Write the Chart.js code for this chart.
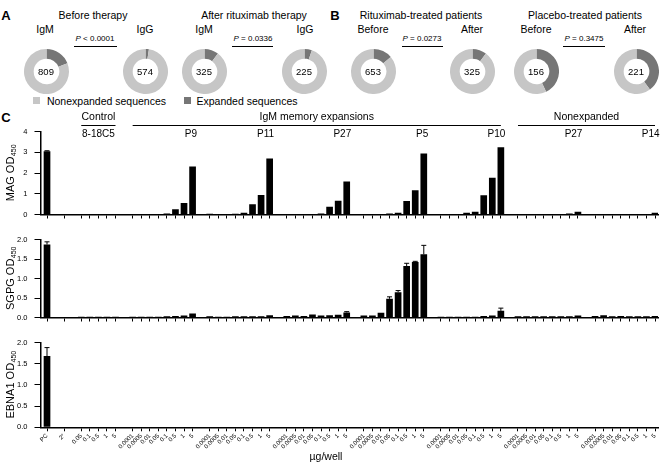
<!DOCTYPE html>
<html><head><meta charset="utf-8">
<script src="https://cdn.jsdelivr.net/npm/chart.js@4/dist/chart.umd.min.js"></script>
<style>
html,body{margin:0;padding:0;background:#fff;}
#fig{position:relative;width:663px;height:468px;overflow:hidden;font-family:"Liberation Sans",Arial,Helvetica,sans-serif;color:#000;}
.t{position:absolute;white-space:nowrap;line-height:1;transform:translate(-50%,-50%);}
.ln{position:absolute;height:0;border-top:1px solid #000;}
.sq{position:absolute;width:7px;height:7px;}
canvas{position:absolute;}
</style></head><body><div id="fig"></div>
<script>
// ---------------- DATA ----------------
// Panels A and B: donuts (total sequences, expanded sequences)
const donutTotals    = [809, 574, 325, 225, 653, 325, 156, 221];
const donutExpanded  = [154, 14, 33, 12, 91, 33, 67, 88];
const donutSeries    = ['Expanded sequences', 'Nonexpanded sequences'];
const pValues        = ['< 0.0001', '= 0.0336', '= 0.0273', '= 0.3475'];

// Panel C: x categories (bar groups)
const controlDoses = ['0.05', '0.1', '0.5', '1', '5'];
const patientDoses = ['0.0001', '0.0005', '0.01', '0.05', '0.1', '0.5', '1', '5'];
const groupTicks = [['PC'], ['2°'], controlDoses, patientDoses, patientDoses, patientDoses,
                    patientDoses, patientDoses, patientDoses, patientDoses];
const groupNames = ['', '', '8-18C5', 'P9', 'P11', 'P27', 'P5', 'P10', 'P27', 'P14'];
const magTicks  = [0, 1, 2, 3, 4];
const odTicks   = [0, 0.5, 1, 1.5, 2];

// Values in bar order: PC, 2°, 8-18C5 x5, P9, P11, P27, P5, P10 (expansions), P27, P14 (nonexpanded)
const magValues = [3.05, 0.01,
  0.02, 0.02, 0.03, 0.02, 0.02,
  0.01, 0.02, 0.02, 0.03, 0.05, 0.25, 0.56, 2.32,
  0.04, 0.01, 0.02, 0.04, 0.08, 0.50, 0.94, 2.70,
  0.02, 0.02, 0.03, 0.03, 0.05, 0.38, 0.66, 1.60,
  0.02, 0.02, 0.02, 0.05, 0.08, 0.65, 1.17, 2.95,
  0.01, 0.02, 0.03, 0.09, 0.13, 0.93, 1.77, 3.25,
  0.02, 0.02, 0.02, 0.02, 0.02, 0.02, 0.05, 0.13,
  0.02, 0.02, 0.02, 0.02, 0.02, 0.02, 0.02, 0.08];
const magErrors = [0.03];

const sgpgValues = [1.87, 0.01,
  0.02, 0.02, 0.02, 0.02, 0.02,
  0.02, 0.02, 0.02, 0.02, 0.03, 0.04, 0.05, 0.10,
  0.03, 0.02, 0.02, 0.03, 0.03, 0.03, 0.03, 0.06,
  0.04, 0.05, 0.04, 0.08, 0.05, 0.06, 0.07, 0.13,
  0.05, 0.05, 0.12, 0.48, 0.65, 1.32, 1.42, 1.62,
  0.02, 0.02, 0.02, 0.02, 0.02, 0.04, 0.05, 0.17,
  0.03, 0.03, 0.03, 0.03, 0.03, 0.03, 0.03, 0.05,
  0.04, 0.06, 0.03, 0.04, 0.03, 0.03, 0.03, 0.04];
const sgpgErrors = [0.07, 0,
  0, 0, 0, 0, 0,
  0, 0, 0, 0, 0, 0, 0, 0,
  0, 0, 0, 0, 0, 0, 0, 0,
  0, 0, 0, 0, 0, 0, 0, 0.02,
  0, 0, 0, 0.05, 0.04, 0.07, 0.02, 0.23,
  0, 0, 0, 0, 0, 0, 0, 0.07];

const ebnaValues = [1.68, 0,
  0, 0, 0, 0, 0,
  0, 0, 0, 0, 0, 0, 0, 0,
  0, 0, 0, 0, 0, 0, 0, 0,
  0, 0, 0, 0, 0, 0, 0, 0,
  0, 0, 0, 0, 0, 0, 0, 0,
  0, 0, 0, 0, 0, 0, 0, 0,
  0, 0, 0, 0, 0, 0, 0, 0,
  0, 0, 0, 0, 0, 0, 0, 0];
const ebnaErrors = [0.20];

// ---------------- BUILD ----------------
const FONT = '"Liberation Sans", Arial, Helvetica, sans-serif';
const LIGHT = '#c6c6c6', DARK = '#767676';
const fig = document.getElementById('fig');

function txt(html, x, y, size, bold) {
  const d = document.createElement('div');
  d.className = 't'; d.innerHTML = html;
  d.style.left = x + 'px'; d.style.top = y + 'px'; d.style.fontSize = size + 'px';
  if (bold) d.style.fontWeight = 'bold';
  fig.appendChild(d);
}
function hline(x1, x2, y) {
  const d = document.createElement('div'); d.className = 'ln';
  d.style.left = x1 + 'px'; d.style.top = y + 'px'; d.style.width = (x2 - x1) + 'px';
  fig.appendChild(d);
}
function mkCanvas(left, top, w, h) {
  const c = document.createElement('canvas');
  c.width = w; c.height = h;
  c.style.left = left + 'px'; c.style.top = top + 'px';
  c.style.width = w + 'px'; c.style.height = h + 'px';
  fig.appendChild(c); return c;
}

// ---- Panels A & B text ----
txt('A', 6, 15, 13, true);
txt('B', 335, 15, 13, true);
txt('C', 6, 117, 13, true);
txt('Before therapy', 93, 15, 10.5);
txt('After rituximab therapy', 254, 15, 10.5);
txt('Rituximab-treated patients', 421, 15, 10.5);
txt('Placebo-treated patients', 585, 15, 10.5);
const subLabels = ['IgM', 'IgG', 'IgM', 'IgG', 'Before', 'After', 'Before', 'After'];
const subX = [45, 145, 204, 305, 373, 472, 536, 635];
subLabels.forEach((s, i) => txt(s, subX[i], 29, 10.5));
const pX = [95, 253, 422, 584];
const pLine = [[74, 117], [232, 273], [402, 443], [563, 605]];
pValues.forEach((p, i) => {
  txt('<i>P</i> ' + p.replace('<', '&lt;'), pX[i], 39, 8);
  hline(pLine[i][0], pLine[i][1], 46);
});

// legend
function sq(x, y, col) { const d = document.createElement('div'); d.className = 'sq'; d.style.left = x + 'px'; d.style.top = y + 'px'; d.style.background = col; fig.appendChild(d); }
sq(33, 97, LIGHT);
txt('Nonexpanded sequences', 106.5, 100.5, 10.5);
sq(184, 97, DARK);
txt('Expanded sequences', 247, 100.5, 10.5);

// donuts
const donutCx = [46, 145, 204, 304, 373, 472, 536, 636];
const DONUT_R = 22.5, DONUT_CY = 71;
donutTotals.forEach((tot, i) => {
  const c = mkCanvas(donutCx[i] - DONUT_R, DONUT_CY - DONUT_R, 45, 45);
  new Chart(c, {
    type: 'doughnut',
    data: { labels: donutSeries, datasets: [{ data: [donutExpanded[i], tot - donutExpanded[i]], backgroundColor: [DARK, LIGHT], borderWidth: 0 }] },
    options: { responsive: false, animation: false, cutout: '57%', layout: { padding: 0 },
      plugins: { legend: { display: false }, tooltip: { enabled: false } } }
  });
  txt(String(tot), donutCx[i], DONUT_CY + 0.5, 9.5);
});

// ---- Panel C ----
const xs = [], xLabels = [], groupSlots = [];
let slot = 0;
groupTicks.forEach((g, gi) => {
  if (gi > 0) slot++;
  const first = slot;
  g.forEach(l => { xs.push(slot); xLabels.push(l); slot++; });
  groupSlots.push([first, slot - 1]);
});
const labelAt = {};
xs.forEach((x, i) => { labelAt[x] = xLabels[i]; });

const errPlugin = {
  id: 'errbars',
  afterDatasetsDraw(chart, args, o) {
    const errs = o.errors || [], vals = o.values || [];
    const ctx = chart.ctx, y = chart.scales.y, meta = chart.getDatasetMeta(0);
    ctx.save(); ctx.strokeStyle = '#000'; ctx.lineWidth = 1;
    meta.data.forEach((bar, i) => {
      const e = errs[i]; if (!e) return;
      const top = y.getPixelForValue(vals[i] + e);
      ctx.beginPath();
      ctx.moveTo(bar.x, bar.y); ctx.lineTo(bar.x, top);
      ctx.moveTo(bar.x - 2.5, top); ctx.lineTo(bar.x + 2.5, top);
      ctx.stroke();
    });
    ctx.restore();
  }
};
const yTitlePlugin = {
  id: 'ytitle',
  afterDraw(chart, args, o) {
    const ctx = chart.ctx, ca = chart.chartArea;
    ctx.save();
    ctx.translate(10.5, (ca.top + ca.bottom) / 2);
    ctx.rotate(-Math.PI / 2);
    ctx.fillStyle = '#000'; ctx.textBaseline = 'middle'; ctx.textAlign = 'left';
    ctx.font = '11px ' + FONT; const w1 = ctx.measureText(o.main).width;
    ctx.font = '7px ' + FONT; const w2 = ctx.measureText(o.sub).width;
    const s = -(w1 + w2) / 2;
    ctx.font = '11px ' + FONT; ctx.fillText(o.main, s, 0);
    ctx.font = '7px ' + FONT; ctx.fillText(o.sub, s + w1 + 0.5, 4);
    ctx.restore();
  }
};
const headerPlugin = {
  id: 'headers',
  afterDraw(chart, args, o) {
    if (!o.show) return;
    const ctx = chart.ctx, xsc = chart.scales.x;
    const px = v => xsc.getPixelForValue(v);
    ctx.save(); ctx.fillStyle = '#000'; ctx.strokeStyle = '#000'; ctx.lineWidth = 1;
    ctx.textBaseline = 'middle';
    const heads = [['Control', 2, 2], ['IgM memory expansions', 3, 7], ['Nonexpanded', 8, 9]];
    heads.forEach(h => {
      const x1 = px(groupSlots[h[1]][0]), x2 = px(groupSlots[h[2]][1]);
      ctx.font = '10.5px ' + FONT; ctx.textAlign = 'center';
      ctx.fillText(h[0], (x1 + x2) / 2, 12);
      ctx.beginPath(); ctx.moveTo(x1, 20.5); ctx.lineTo(x2, 20.5); ctx.stroke();
    });
    ctx.font = '10px ' + FONT;
    groupNames.forEach((n, gi) => {
      if (!n) return;
      const g = groupSlots[gi];
      if (gi === 2) { ctx.textAlign = 'center'; ctx.fillText(n, (px(g[0]) + px(g[1])) / 2, 29.5); }
      else { ctx.textAlign = 'right'; ctx.fillText(n, px(g[1]) + 4.5, 29.5); }
    });
    ctx.restore();
  }
};
const unitPlugin = {
  id: 'unit',
  afterDraw(chart, args, o) {
    if (!o.text) return;
    const ctx = chart.ctx;
    ctx.save(); ctx.fillStyle = '#000'; ctx.font = '10.5px ' + FONT;
    ctx.textAlign = 'center'; ctx.textBaseline = 'middle';
    ctx.fillText(o.text, 326, chart.height - 11);
    ctx.restore();
  }
};

function barChart(top, height, padTop, xHeight, values, errors, yTicks, decimals, titleMain, showX, headers, unit) {
  const c = mkCanvas(0, top, 663, height);
  return new Chart(c, {
    type: 'bar',
    data: { datasets: [{ data: xs.map((x, i) => ({ x: x, y: values[i] })), backgroundColor: '#000', borderWidth: 0,
      categoryPercentage: 1, barPercentage: 0.78 }] },
    options: {
      responsive: false, animation: false,
      layout: { padding: { top: padTop, right: 5, left: 0, bottom: 0 } },
      plugins: { legend: { display: false }, tooltip: { enabled: false },
        errbars: { errors: errors, values: values },
        ytitle: { main: titleMain, sub: '450' },
        headers: { show: headers }, unit: { text: unit } },
      scales: {
        x: { type: 'linear', min: -0.76, max: 71.35, offset: false,
          afterBuildTicks: s => { s.ticks = xs.map(v => ({ value: v })); },
          afterFit: s => { s.height = xHeight; },
          grid: { offset: false, drawOnChartArea: false, drawTicks: true, tickLength: 4, color: '#000', lineWidth: 1 },
          border: { color: '#000', width: 1.5 },
          ticks: { display: showX, autoSkip: false, minRotation: 45, maxRotation: 45, padding: 1,
            font: { size: 6, family: FONT }, color: '#000', callback: v => (labelAt[v] !== undefined ? labelAt[v] : '') } },
        y: { type: 'linear', min: yTicks[0], max: yTicks[yTicks.length - 1],
          afterBuildTicks: s => { s.ticks = yTicks.map(v => ({ value: v })); },
          afterFit: s => { s.width = 40.5; },
          grid: { drawOnChartArea: false, drawTicks: true, tickLength: 6, color: '#000', lineWidth: 1 },
          border: { color: '#000', width: 1.5 },
          ticks: { autoSkip: false, padding: 7, font: { size: 7.5, family: FONT }, color: '#000',
            callback: v => Number(v).toFixed(decimals) } }
      }
    },
    plugins: [errPlugin, yTitlePlugin, headerPlugin, unitPlugin]
  });
}

barChart(105, 121, 26.7, 8.3, magValues, magErrors, magTicks, 0, 'MAG OD', false, true, '');
barChart(228, 101, 9.7, 5.7, sgpgValues, sgpgErrors, odTicks, 1, 'SGPG OD', false, false, '');
barChart(331, 137, 9.7, 40.7, ebnaValues, ebnaErrors, odTicks, 1, 'EBNA1 OD', true, false, 'µg/well');
</script></body></html>
